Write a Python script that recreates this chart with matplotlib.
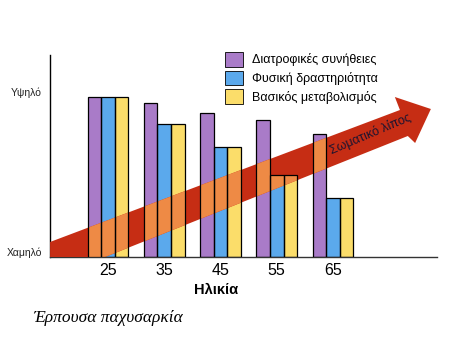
import matplotlib.pyplot as plt
from matplotlib.patches import Polygon, Patch

ages = [25, 35, 45, 55, 65]
diet = [160, 154, 144, 137, 123]
activity = [160, 133, 110, 82, 59]
metabolism = [160, 133, 110, 82, 59]
series_names = ['Διατροφικές συνήθειες', 'Φυσική δραστηριότητα', 'Βασικός μεταβολισμός']
level_ticks = [5, 165]
level_labels = ['Χαμηλό', 'Υψηλό']

# body fat arrow outline (age, level)
arrow_x = [14.7, 76.9, 76.0, 82.4, 79.6, 78.3, 14.7]
arrow_y = [15, 147, 160, 148, 114, 121, -22]

colors = ['#A97BC8', '#5BA9EC', '#FBDD6A']
red = '#C62D14'
orange = '#EE8A45'

plt.rcParams['font.family'] = ['Liberation Sans', 'DejaVu Sans']

fig = plt.figure(figsize=(4.54, 3.55), dpi=100)
ax = fig.add_axes([50 / 454, 98 / 355, 387 / 454, 202 / 355])
ax.set_xlim(14.69, 83.49)
ax.set_ylim(0, 202)

width = 2.42
bars = []
for i, vals in enumerate([diet, activity, metabolism]):
    xs = [a + (i - 1) * width for a in ages]
    b = ax.bar(xs, vals, width, color=colors[i], edgecolor='none', zorder=2)
    bars.extend(b.patches)
    ax.bar(xs, vals, width, facecolor='none', edgecolor='black', linewidth=0.9, zorder=5)

pts = list(zip(arrow_x, arrow_y))
ax.add_patch(Polygon(pts, closed=True, facecolor=red, edgecolor='none', zorder=3))
for bar in bars:
    p = Polygon(pts, closed=True, facecolor=orange, edgecolor='none', zorder=4)
    ax.add_patch(p)
    p.set_clip_path(bar)

ax.text(71.6, 123, 'Σωματικό λίπος', rotation=23, ha='center', va='center',
        fontsize=9, color='#1c1430', zorder=6)

handles = [Patch(facecolor=c, edgecolor='black', linewidth=0.6) for c in colors]
ax.legend(handles, series_names, loc='upper left', bbox_to_anchor=(0.452, 1.015),
          frameon=False, fontsize=9, handlelength=1.44, handleheight=1.44,
          labelspacing=0.32, handletextpad=0.72, borderpad=0, borderaxespad=0)

ax.set_xticks(ages)
ax.set_xticklabels([str(a) for a in ages], fontsize=11.5)
ax.set_yticks(level_ticks)
ax.set_yticklabels(level_labels, fontsize=7.5, color='#222222')
ax.tick_params(axis='both', length=0)
ax.tick_params(axis='x', pad=4)
ax.tick_params(axis='y', pad=6)

ax.spines['top'].set_visible(False)
ax.spines['right'].set_visible(False)
ax.spines['left'].set_linewidth(1.0)
ax.spines['bottom'].set_linewidth(1.0)
ax.spines['bottom'].set_color('#333333')

ax.set_xlabel('Ηλικία', fontsize=10.5, fontweight='bold')
ax.xaxis.set_label_coords((216 - 50) / 387, -0.13)

fig.text(33 / 454, 1 - 318 / 355, 'Έρπουσα παχυσαρκία', fontsize=12.5,
         family=['Liberation Serif', 'DejaVu Serif'], style='italic', va='center')

fig.savefig('out.png', dpi=100)
